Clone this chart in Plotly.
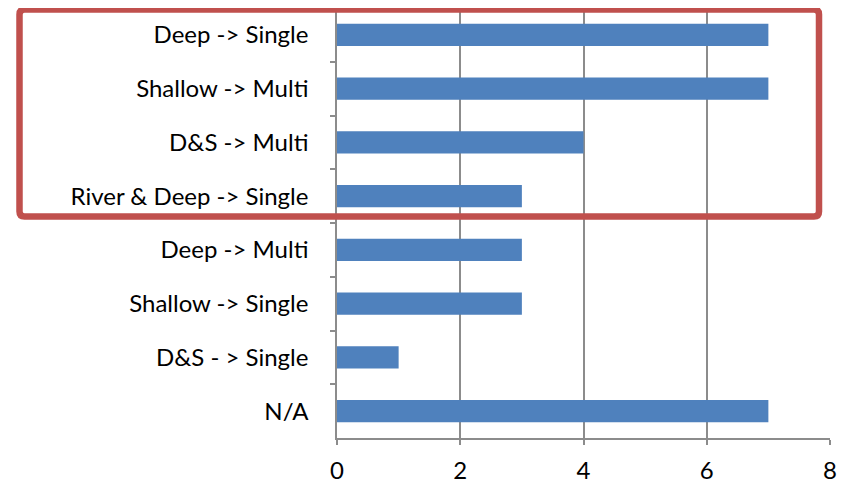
import plotly.graph_objects as go

categories = ["Deep -> Single", "Shallow -> Multi", "D&S -> Multi", "River & Deep -> Single",
              "Deep -> Multi", "Shallow -> Single", "D&S - > Single", "N/A"]
values = [7, 7, 4, 3, 3, 3, 1, 7]
x_ticks = [0, 2, 4, 6, 8]

OFF = 8  # page body margin
W, H = 845 - OFF, 485 - OFF
L, R, T, B = 337 - OFF, 15, 0, 47
pw, ph = W - L - R, H - T - B

def px(x):
    return (x - OFF - L) / pw

def py(y):
    return (H - B - (y - OFF)) / ph

fig = go.Figure(go.Bar(
    x=values, y=categories, orientation="h",
    marker=dict(color="#4F81BD", line=dict(width=0)),
))

# red highlight box with slightly rounded corners (window pixel geometry -> paper coords)
x0, x1, y0, y1, r = 19.5, 819, 9.5, 216.5, 5
rx, ry = r / pw, r / ph
X0, X1, Y0, Y1 = px(x0), px(x1), py(y0), py(y1)
path = (f"M {X0+rx},{Y0} L {X1-rx},{Y0} Q {X1},{Y0} {X1},{Y0-ry} "
        f"L {X1},{Y1+ry} Q {X1},{Y1} {X1-rx},{Y1} "
        f"L {X0+rx},{Y1} Q {X0},{Y1} {X0},{Y1+ry} "
        f"L {X0},{Y0-ry} Q {X0},{Y0} {X0+rx},{Y0} Z")
fig.add_shape(type="path", path=path, xref="paper", yref="paper",
              line=dict(color="#C0504D", width=6.5), layer="above")

fig.update_layout(
    width=W, height=H,
    margin=dict(l=L, r=R, t=T, b=B, autoexpand=False),
    paper_bgcolor="white", plot_bgcolor="white",
    bargap=0.59,
    showlegend=False,
    font=dict(family="Lato, Open Sans, sans-serif", size=24, color="black"),
)
fig.update_xaxes(
    range=[0, 8], tickvals=x_ticks, ticktext=[str(v) for v in x_ticks],
    showgrid=True, gridcolor="#8c8c8c", gridwidth=1.5,
    showline=True, linecolor="#8c8c8c", linewidth=1.5,
    ticks="outside", ticklen=5, tickcolor="#8c8c8c", tickwidth=1.5,
    ticklabelstandoff=5, zeroline=False, fixedrange=True,
)
fig.update_yaxes(
    categoryorder="array", categoryarray=categories, autorange="reversed",
    showgrid=False, showline=True, linecolor="#8c8c8c", linewidth=1.5,
    ticks="outside", ticklen=5, tickcolor="#8c8c8c", tickwidth=1.5,
    tickson="boundaries", ticklabelstandoff=22, fixedrange=True,
)

fig.write_html("out.html")
